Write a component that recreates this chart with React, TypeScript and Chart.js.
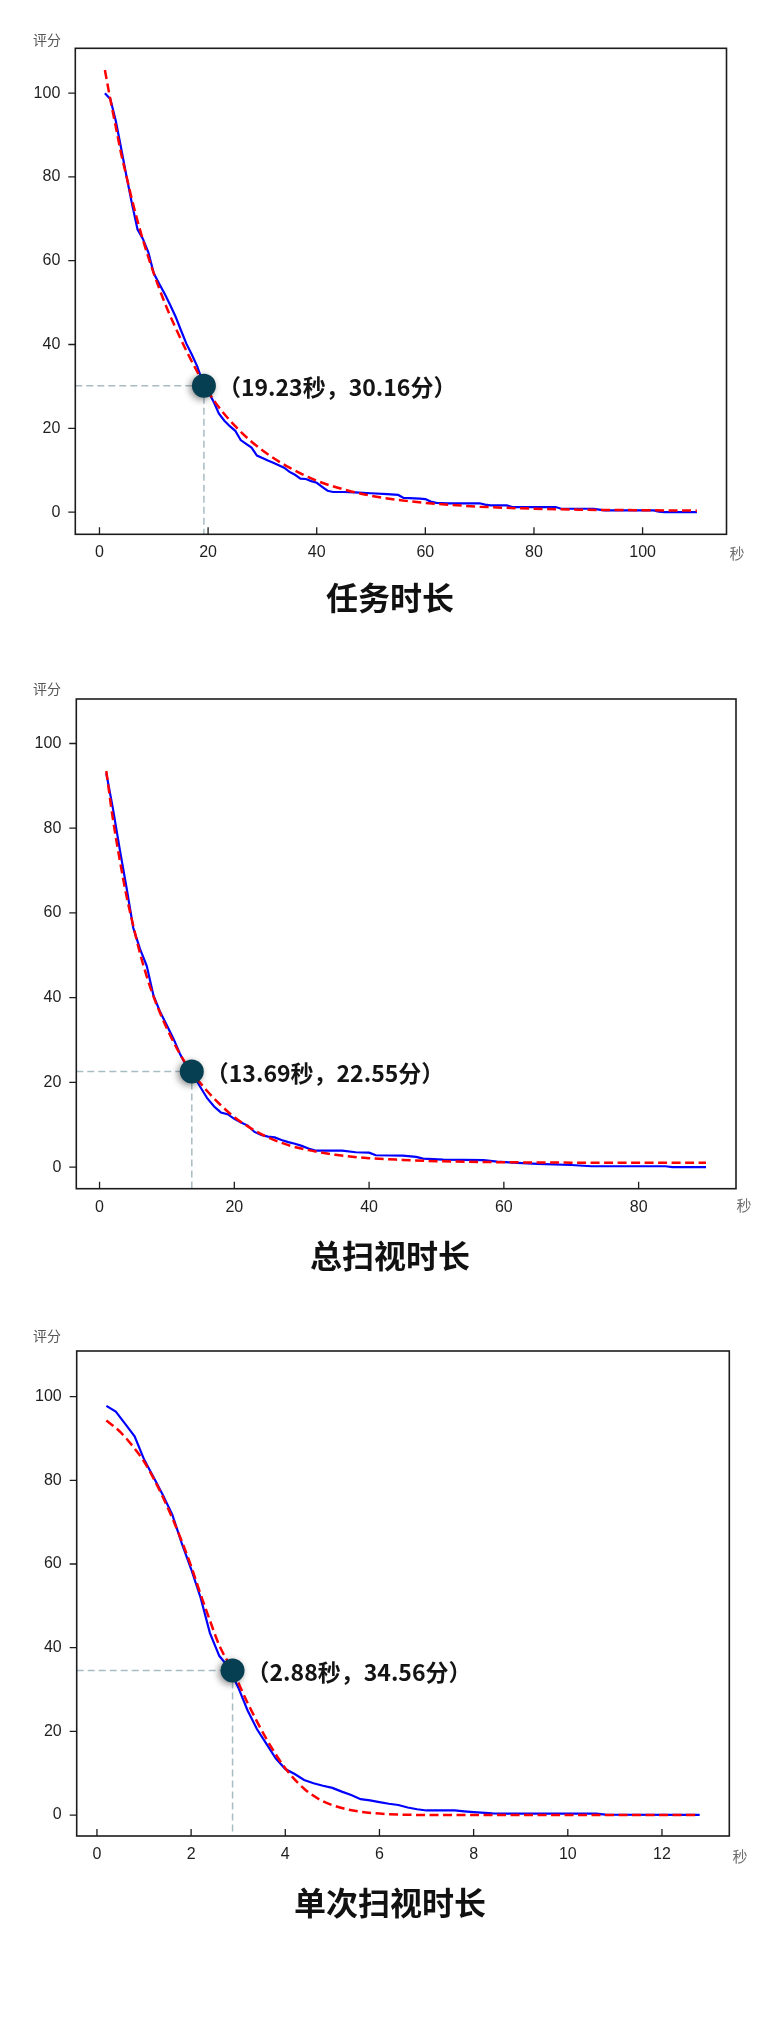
import React, { useEffect, useRef } from "react";
import { Chart, registerables } from "chart.js";

Chart.register(...registerables);

// ---------- data: 任务时长 ----------
const taskX = [1,2,3,4,5,6,7,8,9,10,11,12,13,14,15,16,17,18,19,20,21,22,23,24,25,26,27,28,29,30,31,32,33,34,35,36,37,38,39,40,41,42,43,45,47,50,53,55,56,59,60,61,62,64,70,71,72,75,76,84,85,91,92,93,102,103,104,110];
const taskY = [100,98.6,93.4,86.8,80,73.5,67.5,65.2,62,57,54.5,52.1,49.5,46.7,43.4,40.2,37.6,34.8,31,28.8,26.4,23.5,21.8,20.5,19.4,17.2,16.3,15.4,13.5,12.9,12.3,11.8,11.2,10.6,9.6,8.9,8.0,7.9,7.4,7.0,6.0,5.1,4.8,4.8,4.7,4.5,4.3,4.1,3.4,3.2,3.1,2.5,2.2,2.1,2.1,1.8,1.6,1.6,1.2,1.2,0.8,0.8,0.6,0.4,0.4,0.1,0,0];
const taskFitX = [1,2,3,4,5,6,8,10,12,14,16,18,20,22,25,28,31,35,40,45,50,55,60,70,80,90,100,110];
const taskFitY = [105.5,98.5,92,85.5,80,74.5,65,57,50,44,38.5,33.5,28.8,25,20.5,16.8,13.8,10.6,7.5,5.4,3.9,2.9,2.2,1.3,0.8,0.55,0.45,0.35];
const taskXTicks = [0,20,40,60,80,100];

// ---------- data: 总扫视时长 ----------
const totalX = [1,2,3,4,5,6,7,8,9,10,11,12,13,14,15,16,17,18,19,20,21,22,23,24,25,26,27,28,29,30,31,32,36,38,40,41,45,47,48,51,57,59,62,65,70,73,84,85,90];
const totalY = [93,84.5,75,66,56.5,51.5,47.5,40.5,36.6,33.4,30.2,26.5,23.6,21.5,18.8,16.2,14.3,12.9,12.5,11.4,10.5,9.8,8.3,7.6,7.2,7.0,6.4,5.9,5.5,5.0,4.4,3.9,3.9,3.5,3.4,2.8,2.7,2.4,2.0,1.75,1.65,1.3,1.0,0.75,0.5,0.2,0.2,0,0];
const totalFitX = [1,2,3,4,5,6,7,8,9,10,12,14,16,18,20,22,25,28,31,35,40,45,50,60,70,80,90];
const totalFitY = [93.5,82,72.5,64,57,50.5,45,40.3,36.3,32.7,26.5,21.8,17.9,14.6,11.8,9.6,7.0,5.2,4.0,2.9,2.1,1.7,1.4,1.15,1.05,1.0,1.0];
const totalXTicks = [0,20,40,60,80];

// ---------- data: 单次扫视时长 ----------
const singleX = [0.2,0.4,0.6,0.8,1.0,1.2,1.4,1.6,1.8,2.0,2.2,2.4,2.6,2.8,3.0,3.2,3.4,3.6,3.8,4.0,4.2,4.4,4.6,4.8,5.0,5.2,5.4,5.6,5.8,6.0,6.2,6.4,6.6,6.8,7.0,7.6,7.8,8.0,8.4,8.6,10.6,10.8,12.8];
const singleY = [97.8,96.4,93.5,90.5,85,80.8,76.5,71.8,65,58.8,52,43.5,38,35.3,30.5,25,20.5,17,13.5,11,9.8,8.4,7.6,7.0,6.5,5.6,4.8,3.8,3.5,3.1,2.7,2.4,1.8,1.4,1.1,1.1,0.9,0.7,0.4,0.35,0.35,0.1,0.05];
const singleFitX = [0.2,0.5,0.8,1.0,1.2,1.4,1.6,1.8,2.0,2.2,2.4,2.6,2.88,3.2,3.6,4.0,4.4,4.8,5.2,5.6,6.0,6.5,7.0,8.0,12.8];
const singleFitY = [94.3,91.5,87.6,84.5,80.5,76,71,65.5,59.5,52.8,46.5,40.5,34.6,26.8,18.2,11.2,6.3,3.3,1.7,0.8,0.35,0.1,0.03,0,0];
const singleXTicks = [0,2,4,6,8,10,12];

const yTicks = [0,20,40,60,80,100];
const titles = ["任务时长", "总扫视时长", "单次扫视时长"];
const markX = [19.23, 13.69, 2.88];
const markY = [30.16, 22.55, 34.56];
const yUnit = "评分";
const xUnit = "秒";

// ---------- layout (not data) ----------
type Area = { l: number; t: number; r: number; b: number };
type PanelCfg = {
  top: number; h: number; area: Area;
  xMin: number; xMax: number; yMin: number; yMax: number;
  xs: number[]; ys: number[]; fx: number[]; fy: number[]; xTicks: number[];
  title: string; mx: number; my: number;
  unitY: number; secX: number; secY: number; titleY: number;
};

const panels: PanelCfg[] = [
  { top: 0, h: 650, area: { l: 75.3, t: 48.3, r: 726.5, b: 534.3 },
    xMin: -4.45, xMax: 115.45, yMin: -5.3, yMax: 110.7,
    xs: taskX, ys: taskY, fx: taskFitX, fy: taskFitY, xTicks: taskXTicks,
    title: titles[0], mx: markX[0], my: markY[0], unitY: 40, secX: 737, secY: 553, titleY: 598 },
  { top: 650, h: 650, area: { l: 76.3, t: 49, r: 736, b: 538.7 },
    xMin: -3.45, xMax: 94.45, yMin: -5.1, yMax: 110.5,
    xs: totalX, ys: totalY, fx: totalFitX, fy: totalFitY, xTicks: totalXTicks,
    title: titles[1], mx: markX[1], my: markY[1], unitY: 39, secX: 744, secY: 555, titleY: 606 },
  { top: 1300, h: 738, area: { l: 76.7, t: 51, r: 729.3, b: 536 },
    xMin: -0.43, xMax: 13.43, yMin: -5.0, yMax: 110.9,
    xs: singleX, ys: singleY, fx: singleFitX, fy: singleFitY, xTicks: singleXTicks,
    title: titles[2], mx: markX[2], my: markY[2], unitY: 36, secX: 740, secY: 556, titleY: 603 },
];

const CJK = '"Noto Sans CJK SC", "Noto Sans", sans-serif';
const TICKFONT = '"Liberation Sans", Arial, sans-serif';

function makeDeco(cfg: PanelCfg) {
  return {
    id: "deco",
    beforeDatasetsDraw(chart: any) {
      const { ctx, chartArea: a, scales } = chart;
      const px = scales.x.getPixelForValue(cfg.mx);
      const py = scales.y.getPixelForValue(cfg.my);
      ctx.save();
      ctx.strokeStyle = "#a8bcc4";
      ctx.lineWidth = 1.5;
      ctx.setLineDash([7, 4]);
      ctx.beginPath();
      ctx.moveTo(a.left, py);
      ctx.lineTo(px, py);
      ctx.moveTo(px, py);
      ctx.lineTo(px, a.bottom);
      ctx.stroke();
      ctx.restore();
    },
    afterDatasetsDraw(chart: any) {
      const { ctx, chartArea: a, scales } = chart;
      const px = scales.x.getPixelForValue(cfg.mx);
      const py = scales.y.getPixelForValue(cfg.my);
      ctx.save();
      // frame
      ctx.strokeStyle = "#1c1c1c";
      ctx.lineWidth = 1.6;
      ctx.setLineDash([]);
      ctx.strokeRect(a.left, a.top, a.right - a.left, a.bottom - a.top);
      // tick marks
      ctx.lineWidth = 1.3;
      ctx.beginPath();
      for (const t of scales.x.ticks) {
        const x = scales.x.getPixelForValue(t.value);
        ctx.moveTo(x, a.bottom);
        ctx.lineTo(x, a.bottom - 7);
      }
      for (const t of scales.y.ticks) {
        const y = scales.y.getPixelForValue(t.value);
        ctx.moveTo(a.left - 7, y);
        ctx.lineTo(a.left, y);
      }
      ctx.stroke();
      // marker dot
      ctx.shadowColor = "rgba(0,0,0,0.45)";
      ctx.shadowBlur = 7;
      ctx.shadowOffsetX = -2;
      ctx.shadowOffsetY = 2;
      ctx.fillStyle = "#063f51";
      ctx.beginPath();
      ctx.arc(px, py, 12, 0, Math.PI * 2);
      ctx.fill();
      ctx.shadowColor = "transparent";
      ctx.shadowBlur = 0;
      ctx.shadowOffsetX = 0;
      ctx.shadowOffsetY = 0;
      // annotation
      ctx.fillStyle = "#141414";
      ctx.font = `bold 23px ${CJK}`;
      ctx.textAlign = "left";
      ctx.textBaseline = "middle";
      ctx.fillText(`（${cfg.mx.toFixed(2)}秒，${cfg.my.toFixed(2)}分）`, px + 14, py + 2);
      ctx.restore();
    },
    afterDraw(chart: any) {
      const { ctx } = chart;
      ctx.save();
      ctx.fillStyle = "#555555";
      ctx.font = `14px ${CJK}`;
      ctx.textAlign = "left";
      ctx.textBaseline = "middle";
      ctx.fillText(yUnit, 33, cfg.unitY);
      ctx.fillStyle = "#6e6e6e";
      ctx.font = `15px ${CJK}`;
      ctx.textAlign = "center";
      ctx.fillText(xUnit, cfg.secX, cfg.secY);
      ctx.fillStyle = "#111111";
      ctx.font = `bold 32px ${CJK}`;
      ctx.fillText(cfg.title, 390, cfg.titleY);
      ctx.restore();
    },
  };
}

function Panel({ cfg }: { cfg: PanelCfg }) {
  const ref = useRef<HTMLCanvasElement>(null);
  useEffect(() => {
    const a = cfg.area;
    const pts = cfg.xs.map((x, i) => ({ x, y: cfg.ys[i] }));
    const fit = cfg.fx.map((x, i) => ({ x, y: cfg.fy[i] }));
    const chart = new Chart(ref.current as HTMLCanvasElement, {
      type: "line",
      data: {
        datasets: [
          {
            label: "拟合",
            data: fit,
            borderColor: "#ff0000",
            borderWidth: 2.5,
            borderDash: [9, 4.5],
            pointRadius: 0,
            cubicInterpolationMode: "monotone",
            fill: false,
            order: 0,
          },
          {
            label: "数据",
            data: pts,
            borderColor: "#0000ff",
            borderWidth: 2.2,
            pointRadius: 0,
            tension: 0,
            fill: false,
            order: 1,
          },
        ],
      } as any,
      options: {
        responsive: false,
        animation: false,
        devicePixelRatio: 1,
        events: [],
        layout: { padding: { left: 0, top: a.t, right: 780 - a.r, bottom: 0 } },
        plugins: { legend: { display: false }, tooltip: { enabled: false }, title: { display: false } },
        scales: {
          x: {
            type: "linear",
            min: cfg.xMin,
            max: cfg.xMax,
            afterBuildTicks: (s: any) => { s.ticks = cfg.xTicks.map((v) => ({ value: v })); },
            afterFit: (s: any) => { s.height = cfg.h - a.b; },
            grid: { display: false, drawTicks: false, tickLength: 0 },
            border: { display: false },
            ticks: {
              autoSkip: false, maxRotation: 0, padding: 9, color: "#1f1f1f",
              font: { family: TICKFONT, size: 16 },
              callback: (v: any) => String(v),
            },
          },
          y: {
            type: "linear",
            min: cfg.yMin,
            max: cfg.yMax,
            afterBuildTicks: (s: any) => { s.ticks = yTicks.map((v) => ({ value: v })); },
            afterFit: (s: any) => { s.width = a.l; },
            grid: { display: false, drawTicks: false, tickLength: 0 },
            border: { display: false },
            ticks: {
              autoSkip: false, padding: 15, color: "#1f1f1f",
              font: { family: TICKFONT, size: 16 },
              callback: (v: any) => String(v),
            },
          },
        },
      } as any,
      plugins: [makeDeco(cfg) as any],
    });
    return () => chart.destroy();
  }, [cfg]);
  return (
    <canvas
      ref={ref}
      width={780}
      height={cfg.h}
      style={{ position: "absolute", left: 0, top: cfg.top, width: 780, height: cfg.h, display: "block" }}
    />
  );
}

export default function App() {
  return (
    <div style={{ position: "absolute", left: 0, top: 0, width: 780, height: 2038, background: "#ffffff", overflow: "hidden" }}>
      {panels.map((p, i) => (
        <Panel key={i} cfg={p} />
      ))}
    </div>
  );
}
